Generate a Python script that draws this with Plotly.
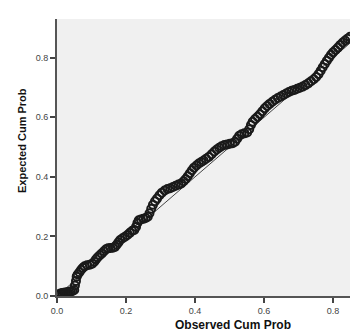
import plotly.graph_objects as go

observed = [0.000,0.005,0.010,0.015,0.020,0.025,0.030,0.035,0.040,0.045,0.050,
            0.052,0.055,0.057,0.060,0.065,0.070,0.075,0.080,0.087,0.095,0.102,0.108,0.113,0.118,0.124,0.130,0.136,0.142,0.148,
            0.155,0.162,0.168,0.173,0.178,0.183,0.190,0.197,0.204,0.211,0.218,0.224,0.229,0.233,0.237,0.243,0.250,0.257,0.263,
            0.268,0.273,0.278,0.284,0.290,0.297,0.304,0.312,0.320,0.328,0.336,0.344,0.352,0.360,0.367,0.373,0.379,0.385,0.391,
            0.397,0.404,0.411,0.418,0.425,0.432,0.440,0.448,0.456,0.463,0.470,0.477,0.485,0.493,0.501,0.509,0.516,0.522,0.528,
            0.535,0.543,0.551,0.557,0.562,0.567,0.574,0.581,0.588,0.595,0.602,0.609,0.616,0.624,0.632,0.640,0.648,0.656,0.664,
            0.672,0.680,0.688,0.696,0.704,0.712,0.720,0.728,0.736,0.744,0.751,0.758,0.764,0.770,0.776,0.782,0.788,0.794,0.800,
            0.807,0.814,0.821,0.828,0.835,0.842,0.849]
expected = [0.003,0.006,0.008,0.010,0.011,0.012,0.013,0.014,0.015,0.017,0.020,
            0.035,0.050,0.065,0.072,0.080,0.088,0.095,0.100,0.103,0.105,0.108,0.115,0.123,0.130,0.137,0.143,0.150,0.157,0.160,
            0.161,0.162,0.165,0.172,0.180,0.188,0.194,0.199,0.205,0.212,0.219,0.222,0.232,0.245,0.254,0.257,0.259,0.262,0.266,
            0.278,0.293,0.306,0.318,0.327,0.338,0.347,0.354,0.359,0.362,0.366,0.370,0.374,0.378,0.385,0.393,0.402,0.412,0.422,
            0.431,0.438,0.445,0.450,0.455,0.461,0.467,0.476,0.485,0.492,0.498,0.503,0.507,0.509,0.511,0.513,0.518,0.528,0.538,
            0.543,0.546,0.549,0.560,0.574,0.585,0.594,0.602,0.610,0.620,0.630,0.638,0.645,0.652,0.659,0.665,0.670,0.675,0.680,
            0.685,0.689,0.692,0.696,0.699,0.703,0.708,0.714,0.721,0.728,0.735,0.745,0.756,0.768,0.779,0.790,0.800,0.810,0.818,
            0.826,0.834,0.843,0.851,0.858,0.864,0.870]
ref_line = [0.0, 1.0]
tick_vals = [0.0, 0.2, 0.4, 0.6, 0.8]
tick_text = ["0.0", "0.2", "0.4", "0.6", "0.8"]

fig = go.Figure()
fig.add_trace(go.Scatter(x=ref_line, y=ref_line, mode="lines",
                         line=dict(color="#444444", width=1), hoverinfo="skip"))
fig.add_trace(go.Scatter(x=observed, y=expected, mode="markers",
                         marker=dict(symbol="circle-open", size=8, color="#1a1a1a",
                                     line=dict(width=2, color="#1a1a1a"))))

axis_common = dict(showgrid=False, zeroline=False, showline=True, linecolor="#555555", linewidth=2,
                   ticks="outside", ticklen=5, tickwidth=1.5, tickcolor="#444444",
                   tickvals=tick_vals, ticktext=tick_text, automargin=False,
                   tickfont=dict(family="Liberation Sans, Arial", size=9, color="#444444"))
fig.update_xaxes(range=[0, 0.849], **axis_common)
fig.update_yaxes(range=[0, 0.93], **axis_common)

fig.update_layout(
    width=350, height=333, showlegend=False,
    margin=dict(l=57, r=0, t=19, b=37, autoexpand=False),
    plot_bgcolor="#f0f0f0", paper_bgcolor="white",
    annotations=[
        dict(text="<b>Observed Cum Prob</b>", xref="paper", yref="paper",
             x=(233 - 57) / 293, y=-(325 - 296) / 277, xanchor="center", yanchor="middle",
             showarrow=False, font=dict(family="Liberation Sans, Arial", size=12, color="#111111")),
        dict(text="<b>Expected Cum Prob</b>", xref="paper", yref="paper",
             x=-(57 - 22) / 293, y=(296 - 141) / 277, xanchor="center", yanchor="middle",
             textangle=-90, showarrow=False,
             font=dict(family="Liberation Sans, Arial", size=11, color="#111111")),
    ],
)

fig.write_html("out.html", config={"displayModeBar": False},
               post_script="document.body.style.margin='0px';document.body.style.overflow='hidden';")
